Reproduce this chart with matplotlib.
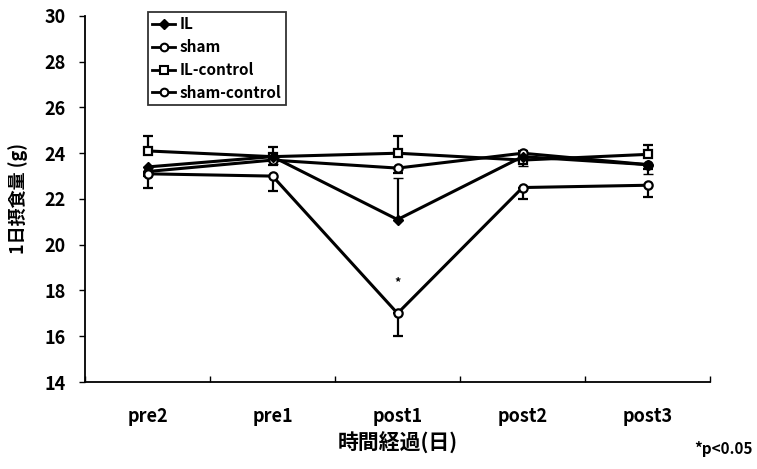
import numpy as np
import matplotlib
matplotlib.use("Agg")
import matplotlib.pyplot as plt
from matplotlib.lines import Line2D

plt.rcParams['font.family'] = ['Noto Sans CJK JP', 'DejaVu Sans']
plt.rcParams['font.weight'] = 'bold'

# ========== data ==========
days = ['pre2', 'pre1', 'post1', 'post2', 'post3']
il = [23.4, 23.85, 21.1, 23.85, 23.5]
sham = [23.1, 23.0, 17.0, 22.5, 22.6]
il_control = [24.1, 23.85, 24.0, 23.7, 23.95]
sham_control = [23.2, 23.7, 23.35, 24.0, 23.5]

# error bars (lower, upper)
il_err = [[0.3, 0.3, 0.0, 0.4, 0.4], [0.0, 0.0, 1.8, 0.0, 0.0]]
sham_err = [[0.6, 0.65, 1.0, 0.5, 0.5], [0.0, 0.0, 0.0, 0.0, 0.0]]
il_control_err = [[0.0, 0.0, 0.0, 0.0, 0.0], [0.65, 0.4, 0.75, 0.4, 0.4]]
sham_control_err = [[0.2, 0.2, 0.2, 0.2, 0.2], [0.0, 0.0, 0.0, 0.0, 0.0]]

# ========== plot ==========
fig = plt.figure(figsize=(7.57, 4.69), dpi=100)
ax = fig.add_axes([0.1123, 0.1855, 0.8257, 0.7805])
x = np.arange(len(days)) + 0.5

common = dict(color='black', lw=2.2, capsize=3.5, elinewidth=1.6, capthick=1.6, ms=6)
ax.errorbar(x, il_control, yerr=il_control_err, marker='s', mfc='white', mew=1.6, **common)
ax.errorbar(x, sham_control, yerr=sham_control_err, marker='o', mfc='white', mew=1.6, **common)
ax.errorbar(x, il, yerr=il_err, marker='D', mfc='black', mew=1, **dict(common, ms=5))
ax.errorbar(x, sham, yerr=sham_err, marker='o', mfc='white', mew=1.6, **common)

ax.text(x[2], 18.35, '*', ha='center', va='center', fontsize=9)

ax.set_xlim(0, 5)
ax.set_ylim(14, 30)
ax.set_yticks(range(14, 31, 2))
ax.set_xticks(np.arange(0, 6))
ax.set_xticklabels([])
ax.set_xticks(x, minor=True)
ax.set_xticklabels(days, minor=True)
ax.tick_params(axis='x', which='major', direction='in', length=4, width=1)
ax.tick_params(axis='x', which='minor', length=0, pad=18, labelsize=13)
ax.tick_params(axis='y', direction='out', length=4, width=1, labelsize=13, pad=10)
for s in ['top', 'right']:
    ax.spines[s].set_visible(False)
for s in ['left', 'bottom']:
    ax.spines[s].set_linewidth(1.3)

ax.set_xlabel('時間経過(日)', fontsize=15, fontweight='bold', labelpad=4)
ax.set_ylabel('1日摂食量 (g)', fontsize=13, fontweight='bold', labelpad=12)

handles = [
    Line2D([], [], color='black', lw=2, marker='D', mfc='black', ms=5),
    Line2D([], [], color='black', lw=2, marker='o', mfc='white', mew=1.5, ms=5.5),
    Line2D([], [], color='black', lw=2, marker='s', mfc='white', mew=1.5, ms=6),
    Line2D([], [], color='black', lw=2, marker='o', mfc='white', mew=1.5, ms=5.5),
]
labels = ['IL', 'sham', 'IL-control', 'sham-control']
leg = ax.legend(handles, labels, loc='upper left',
                bbox_to_anchor=(0.1, 1.012), frameon=True, fancybox=False,
                edgecolor='black', fontsize=11, handlelength=1.5,
                borderpad=0.3, labelspacing=0.45, handletextpad=0.3,
                borderaxespad=0)
leg.get_frame().set_linewidth(1.3)
for t in leg.get_texts():
    t.set_fontweight('bold')

fig.text(0.995, 0.025, '*p<0.05', ha='right', va='bottom', fontsize=11)

fig.savefig('out.png', dpi=100)
